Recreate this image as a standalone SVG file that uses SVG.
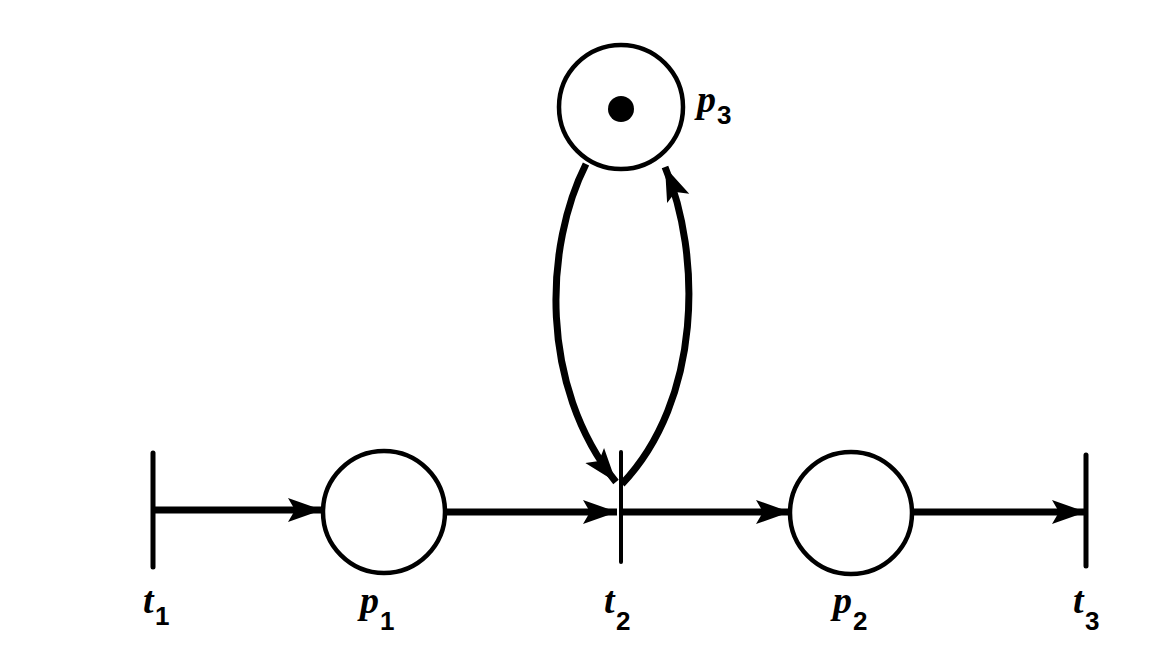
<svg xmlns="http://www.w3.org/2000/svg" width="1175" height="665" viewBox="0 0 1175 665">
<style>
.place{fill:#fff;stroke:#000;stroke-width:4.5}
.trans{stroke:#000;stroke-width:5;stroke-linecap:round}
.arc{fill:none;stroke:#000;stroke-width:7}
.lbl{font-family:"Liberation Serif",serif;font-style:italic;font-weight:bold;font-size:38px;fill:#000}
.sub{font-family:"Liberation Sans",sans-serif;font-weight:bold;font-size:26px;fill:#000}
</style>
<defs>
<marker id="ah" markerUnits="userSpaceOnUse" markerWidth="36" markerHeight="28" refX="34" refY="14" orient="auto">
<path d="M0,2 L34,14 L0,26 L7,14 Z" fill="#000"/>
</marker>
</defs>
<rect width="1175" height="665" fill="#fff"/>
<g id="connectors">
<line class="arc" x1="153" y1="510" x2="322" y2="510" marker-end="url(#ah)"/>
<line class="arc" x1="446" y1="512" x2="617" y2="512" marker-end="url(#ah)"/>
<line class="arc" x1="621" y1="512" x2="790" y2="512" marker-end="url(#ah)"/>
<line class="arc" x1="912" y1="512" x2="1086" y2="512" marker-end="url(#ah)"/>
<path class="arc" d="M586,164 C545,245 538,385 616,482" marker-end="url(#ah)"/>
<path class="arc" d="M622,484 C702,400 702,255 665,167" marker-end="url(#ah)"/>
</g>
<g id="t1"><line class="trans" x1="153" y1="453" x2="153" y2="567"/></g>
<g id="t2"><line class="trans" x1="621" y1="452" x2="621" y2="562" style="stroke-width:4"/></g>
<g id="t3"><line class="trans" x1="1086" y1="455" x2="1086" y2="566"/></g>
<g id="p1"><circle class="place" cx="384" cy="512" r="61"/></g>
<g id="p2"><circle class="place" cx="851" cy="513" r="61"/></g>
<g id="p3"><circle class="place" cx="621" cy="107" r="62"/><circle cx="621" cy="109" r="13" fill="#000"/></g>
<g id="labels">
<text class="lbl" x="143" y="613">t</text><text class="sub" x="155" y="625">1</text>
<text class="lbl" x="360" y="613">p</text><text class="sub" x="380" y="630">1</text>
<text class="lbl" x="604" y="613">t</text><text class="sub" x="616" y="630">2</text>
<text class="lbl" x="833" y="613">p</text><text class="sub" x="853" y="630">2</text>
<text class="lbl" x="1073" y="613">t</text><text class="sub" x="1085" y="630">3</text>
<text class="lbl" x="697" y="112">p</text><text class="sub" x="717" y="124">3</text>
</g>
</svg>
